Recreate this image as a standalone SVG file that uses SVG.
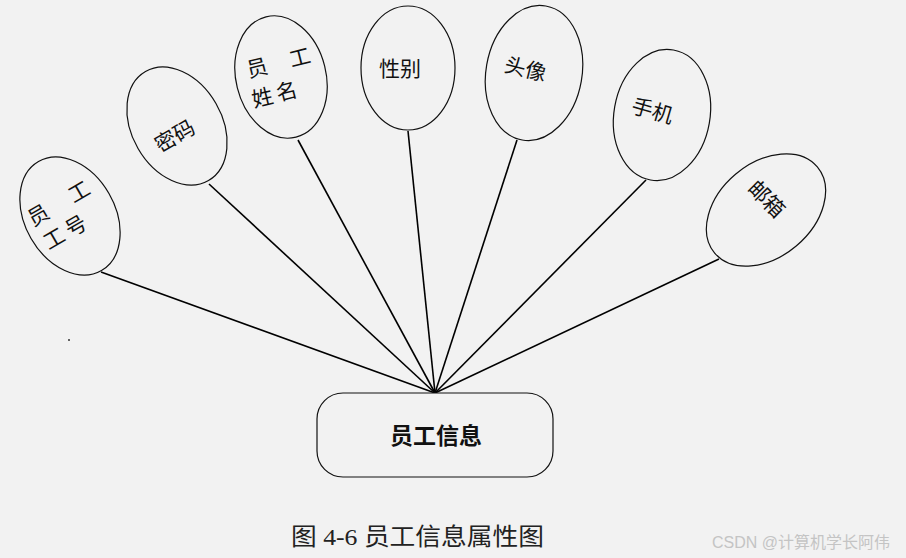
<svg xmlns="http://www.w3.org/2000/svg" width="906" height="558" viewBox="0 0 906 558">
<style>
.bg{fill:#f2f2f2}
.el{fill:#f2f2f2;stroke:#111;stroke-width:1.2}
.ln{stroke:#000;stroke-width:1.6;fill:none}
.lb{font-family:"Noto Sans CJK SC","Noto Sans",sans-serif;font-size:21px;fill:#111;text-anchor:middle}
.main{font-family:"Noto Sans CJK SC","Noto Sans",sans-serif;font-size:23px;font-weight:bold;fill:#111;text-anchor:middle}
.cap{font-family:"Liberation Serif","Noto Sans CJK SC",serif;font-size:24px;fill:#222}
.wm{font-family:"Liberation Sans","Noto Sans CJK SC",sans-serif;font-size:16px;fill:#c4c4c4}
</style>
<rect class="bg" width="906" height="558"/>
<g id="connectors">
<line class="ln" x1="101" y1="272" x2="435" y2="393"/>
<line class="ln" x1="209" y1="184" x2="435" y2="393"/>
<line class="ln" x1="298" y1="140" x2="435" y2="393"/>
<line class="ln" x1="408" y1="131" x2="435" y2="393"/>
<line class="ln" x1="517" y1="140" x2="435" y2="393"/>
<line class="ln" x1="646" y1="180" x2="435" y2="393"/>
<line class="ln" x1="719" y1="259" x2="435" y2="393"/>
</g>
<g id="n-gonghao" transform="rotate(-30 70 216)">
<ellipse class="el" cx="70" cy="216" rx="45" ry="63"/>
<text class="lb"><tspan x="43" y="207">员</tspan><tspan x="90" y="207">工</tspan><tspan x="45" y="235">工</tspan><tspan x="70" y="235">号</tspan></text>
</g>
<g id="n-mima" transform="rotate(-30 177 126)">
<ellipse class="el" cx="177" cy="126" rx="45" ry="63"/>
<text class="lb" x="170" y="141">密码</text>
</g>
<g id="n-xingming" transform="rotate(-14 281 77)">
<ellipse class="el" cx="281" cy="77" rx="45" ry="62"/>
<text class="lb"><tspan x="260" y="70">员</tspan><tspan x="304" y="70">工</tspan><tspan x="258" y="100">姓</tspan><tspan x="283" y="100">名</tspan></text>
</g>
<g id="n-xingbie">
<ellipse class="el" cx="408" cy="68" rx="47" ry="62"/>
<text class="lb" x="400" y="76">性别</text>
</g>
<g id="n-touxiang" transform="rotate(10 534 73)">
<ellipse class="el" cx="534" cy="73" rx="48" ry="68"/>
<text class="lb" transform="rotate(4 525 70)" x="525" y="78">头像</text>
</g>
<g id="n-shouji" transform="rotate(10 662 115)">
<ellipse class="el" cx="662" cy="115" rx="48" ry="66"/>
<text class="lb" transform="rotate(6 652 112)" x="652" y="120">手机</text>
</g>
<g id="n-youxiang" transform="rotate(50 766 210)">
<ellipse class="el" cx="766" cy="210" rx="47" ry="67"/>
<text class="lb" transform="rotate(-5 758 203)" x="758" y="210">邮箱</text>
</g>
<g id="n-yuangong">
<rect class="el" x="317" y="393" width="236" height="84" rx="26"/>
<text class="main" x="436" y="444">员工信息</text>
</g>
<circle cx="69" cy="340" r="1" fill="#333"/>
<text class="cap" x="291" y="545" textLength="253" lengthAdjust="spacingAndGlyphs">图 4-6 员工信息属性图</text>
<text class="wm" x="712" y="548">CSDN @计算机学长阿伟</text>
</svg>
